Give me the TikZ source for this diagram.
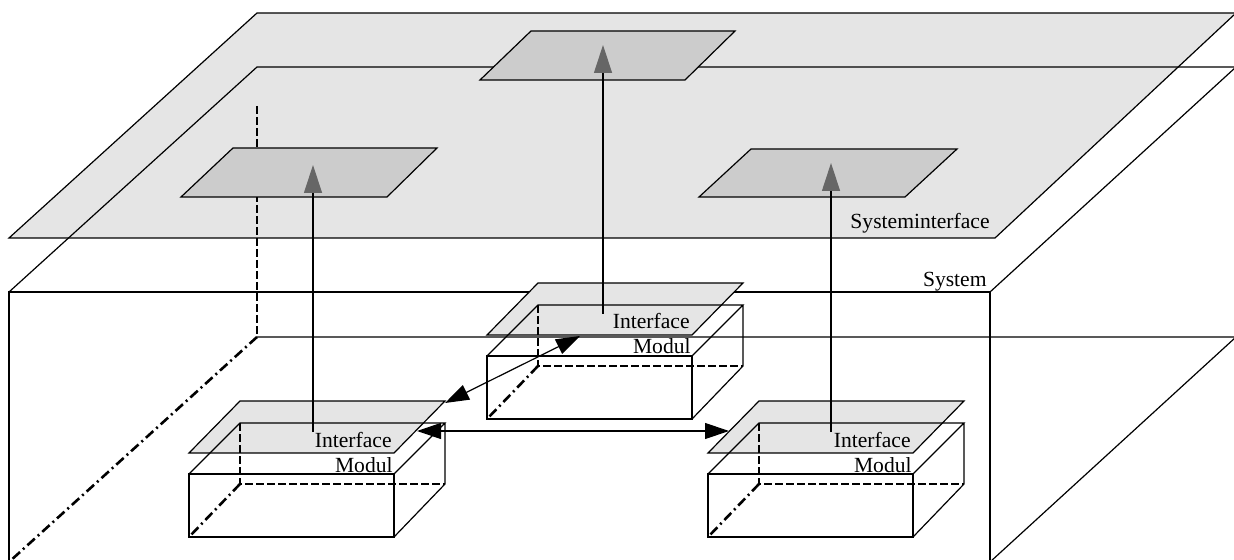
\documentclass[tikz,border=0pt]{standalone}
\usepackage{fontspec}
\setmainfont{Liberation Serif}
\usetikzlibrary{arrows.meta}

\tikzset{
  bigface/.style={fill=black!10, draw=black, line width=0.6pt},
  portface/.style={fill=black!20, draw=black, line width=0.6pt},
  boxline/.style={draw=black, line width=0.6pt},
  hiddenline/.style={draw=black, line width=1.2pt, dash pattern=on 4pt off 1.5pt},
  hiddendepth/.style={draw=black, line width=1.3pt, dash pattern=on 5pt off 2pt on 1pt off 2pt},
  liftarrow/.style={line width=0.6pt, -{Triangle[length=14pt,width=9pt,color=black!60]}},
  linkarrow/.style={line width=0.6pt, {Triangle[length=12pt,width=8pt]}-{Triangle[length=12pt,width=8pt]}},
  tag/.style={inner sep=0pt, font=\fontsize{10.8}{13}\selectfont}
}

\begin{document}
\begin{tikzpicture}[x=0.5pt, y=-0.5pt]
  \useasboundingbox (0,0) rectangle (1234,560);
  \clip (0,0) rectangle (1234,560);
  % Systeminterface plane
  \path[bigface] (9,238) -- (257,13) -- (1236,13) -- (995,238) -- cycle;
  \node[tag, anchor=base east] (sitext) at (990,229) {Systeminterface};
  % System box
  \draw[boxline] (9,562) -- (9,292) -- (990,292) -- (990,562);
  \draw[boxline] (9,292) -- (257,67) -- (1236,67) -- (990,292);
  \draw[boxline] (257,337) -- (1236,337) -- (990,562);
  \draw[hiddenline] (257,106) -- (257,337);
  \draw[hiddendepth] (257,337) -- (9,562);
  \node[tag, anchor=base east] (systext) at (987,287) {System};
  % interfaces of the system
  \path[portface] (181,197) -- (233,148) -- (437,148) -- (387,197) -- cycle;
  \path[portface] (480,80) -- (531,31) -- (735,31) -- (685,80) -- cycle;
  \path[portface] (699,197) -- (751,149) -- (957,149) -- (905,197) -- cycle;
  \coordinate (pl) at (313,165);
  \coordinate (pc) at (603,45);
  \coordinate (pr) at (831,163);
  % modules with their interface
  \foreach \sx/\sy/\n/\ax in {0/0/l/313, 298/-118/c/305, 519/0/r/312}{
    \begin{scope}[shift={(\sx,\sy)}]
      \path[bigface] (189,453) -- (240,401) -- (445,401) -- (394,453) -- cycle;
      \draw[boxline] (189,474) rectangle (394,537);
      \draw[boxline] (189,474) -- (240,423) -- (445,423) -- (394,474)
                     (445,423) -- (445,484) -- (394,537);
      \draw[hiddenline] (240,423) -- (240,484) -- (445,484);
      \draw[hiddendepth] (240,484) -- (189,537);
      \node[tag, anchor=base east] (\n-if) at (392,447) {Interface};
      \node[tag, anchor=base east] (\n-mod) at (393,472) {Modul};
      \coordinate (\n-src) at (\ax,432);
      \coordinate (\n-corner) at (445,403);
      \coordinate (\n-front) at (282,454);
      \coordinate (\n-east) at (417,431);
      \coordinate (\n-west) at (210,431);
    \end{scope}
  }
  % connections
  \draw[liftarrow] (l-src) -- (pl);
  \draw[liftarrow] (c-src) -- (pc);
  \draw[liftarrow] (r-src) -- (pr);
  \draw[linkarrow] (l-corner) -- (c-front);
  \draw[linkarrow] (l-east) -- (r-west);
\end{tikzpicture}
\end{document}
